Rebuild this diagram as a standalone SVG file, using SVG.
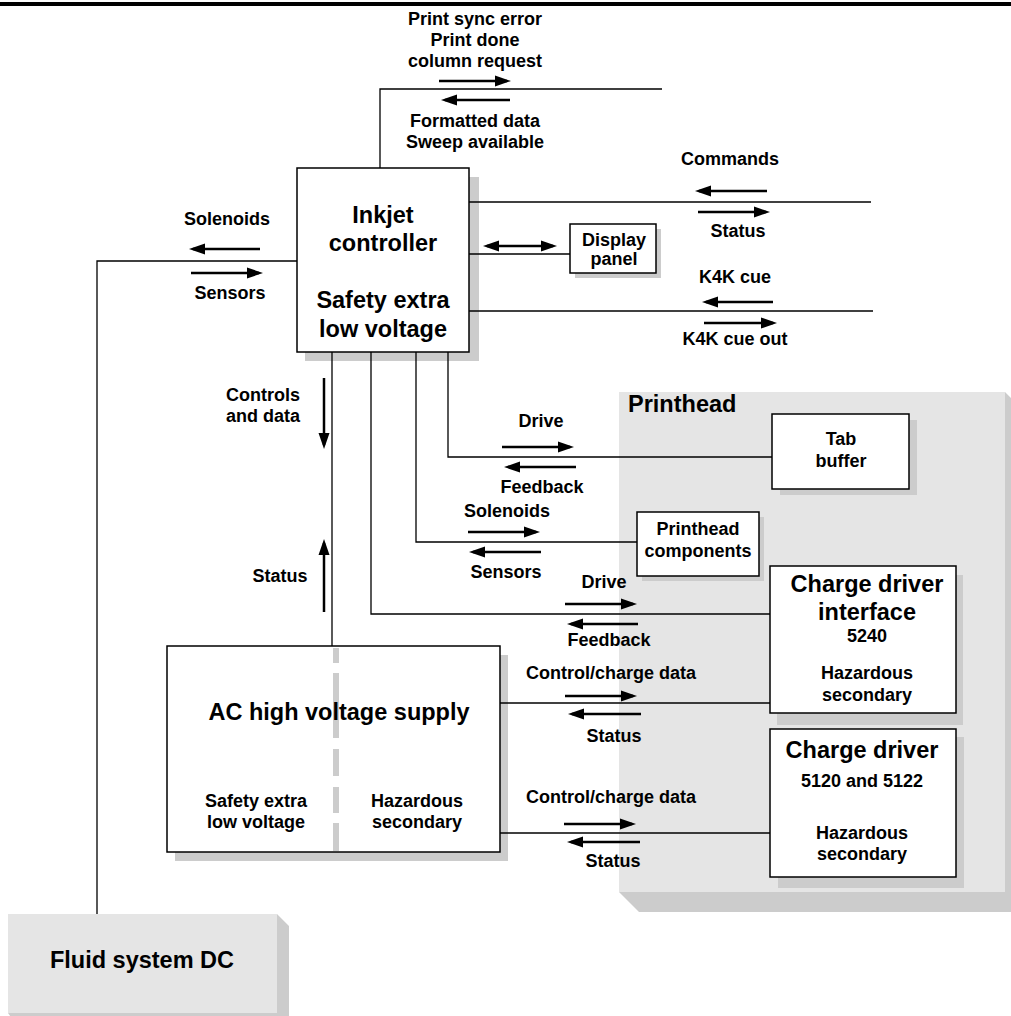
<svg xmlns="http://www.w3.org/2000/svg" width="1011" height="1016" viewBox="0 0 1011 1016">
<style>
text{font-family:"Liberation Sans",Arial,sans-serif;font-weight:bold;fill:#000}
.s{font-size:18px;text-anchor:middle}
.b{font-size:23.5px;text-anchor:middle}
.box{fill:#fff;stroke:#000;stroke-width:1.5}
.sh{fill:#cccccc}
.area{fill:#e5e5e5}
.con{fill:none;stroke:#000;stroke-width:1.3}
.arr{fill:none;stroke:#000;stroke-width:2.5;marker-end:url(#ah)}
.dbl{fill:none;stroke:#000;stroke-width:2.5;marker-end:url(#ah);marker-start:url(#ah)}
.dash{fill:#cccccc}
</style>
<defs>
<marker id="ah" markerUnits="userSpaceOnUse" markerWidth="17" markerHeight="12" refX="12" refY="6" orient="auto-start-reverse">
<path d="M0,0.5 L16,6 L0,11.5 z" fill="#000"/>
</marker>
</defs>
<rect x="0" y="2" width="1011" height="4" fill="#000"/>

<g id="printhead">
<polygon class="sh" points="1005,392 1025,412 1025,912 639,912 619,892 1005,892"/>
<rect class="area" x="619" y="392" width="386" height="500"/>
<text x="628" y="412" style="font-size:23.5px">Printhead</text>
</g>

<g id="fluid-system">
<polygon class="sh" points="277,914 289,926 289,1030 20,1030 8,1013 277,1013"/>
<rect class="area" x="8" y="914" width="269" height="99"/>
<text class="b" x="142" y="968">Fluid system DC</text>
</g>

<g id="inkjet-controller">
<rect class="sh" x="305" y="177" width="174" height="184"/>
<rect class="box" x="297" y="168" width="172" height="184"/>
<text class="b" x="383" y="223">Inkjet</text>
<text class="b" x="383" y="251">controller</text>
<text class="b" x="383" y="308">Safety extra</text>
<text class="b" x="383" y="337">low voltage</text>
</g>

<g id="display-panel">
<rect class="sh" x="575" y="229" width="86" height="49"/>
<rect class="box" x="570" y="224" width="86" height="49"/>
<text class="s" x="614" y="246">Display</text>
<text class="s" x="614" y="265">panel</text>
</g>

<g id="tab-buffer">
<rect class="sh" x="780" y="420" width="137" height="75"/>
<rect class="box" x="772" y="414" width="137" height="75"/>
<text class="s" x="841" y="445">Tab</text>
<text class="s" x="841" y="467">buffer</text>
</g>

<g id="printhead-components">
<rect class="sh" x="642" y="517" width="122" height="64"/>
<rect class="box" x="637" y="512" width="122" height="64"/>
<text class="s" x="698" y="535">Printhead</text>
<text class="s" x="698" y="557">components</text>
</g>

<g id="charge-driver-interface">
<rect class="sh" x="777" y="575" width="186" height="150"/>
<rect class="box" x="770" y="566" width="186" height="147"/>
<text class="b" x="867" y="592">Charge driver</text>
<text class="b" x="867" y="620">interface</text>
<text class="s" x="867" y="642">5240</text>
<text class="s" x="867" y="679">Hazardous</text>
<text class="s" x="867" y="701">secondary</text>
</g>

<g id="charge-driver">
<rect class="sh" x="778" y="737" width="186" height="151"/>
<rect class="box" x="770" y="729" width="186" height="148"/>
<text class="b" x="862" y="758">Charge driver</text>
<text class="s" x="862" y="787">5120 and 5122</text>
<text class="s" x="862" y="839">Hazardous</text>
<text class="s" x="862" y="860">secondary</text>
</g>

<g id="ac-supply">
<rect class="sh" x="175" y="655" width="333" height="206"/>
<rect class="box" x="167" y="646" width="333" height="206"/>
<rect class="dash" x="333" y="648" width="6" height="15"/>
<rect class="dash" x="333" y="673" width="6" height="65"/>
<rect class="dash" x="333" y="749" width="6" height="27"/>
<rect class="dash" x="333" y="787" width="6" height="26"/>
<rect class="dash" x="333" y="823" width="6" height="28"/>
<text class="b" x="339" y="720">AC high voltage supply</text>
<text class="s" x="256" y="807">Safety extra</text>
<text class="s" x="256" y="828">low voltage</text>
<text class="s" x="417" y="807">Hazardous</text>
<text class="s" x="417" y="828">secondary</text>
</g>

<g id="connectors">
<path class="con" d="M380,168 V89 H662"/>
<path class="con" d="M297,261 H97 V914"/>
<path class="con" d="M469,202 H871"/>
<path class="con" d="M469,254 H570"/>
<path class="con" d="M469,311 H873"/>
<path class="con" d="M448,352 V457 H772"/>
<path class="con" d="M416,352 V542 H637"/>
<path class="con" d="M371,352 V614 H770"/>
<path class="con" d="M332,352 V646"/>
<path class="con" d="M500,703 H770"/>
<path class="con" d="M500,833 H770"/>

<path class="arr" d="M439,81 H507"/>
<path class="arr" d="M510,100 H445"/>
<path class="arr" d="M260,249 H193"/>
<path class="arr" d="M191,273 H259"/>
<path class="arr" d="M767,191 H699"/>
<path class="arr" d="M698,212 H766"/>
<path class="dbl" d="M487,246 H553"/>
<path class="arr" d="M773,302 H706"/>
<path class="arr" d="M704,323 H773"/>
<path class="arr" d="M324,378 V445"/>
<path class="arr" d="M324,612 V543"/>
<path class="arr" d="M502,447 H570"/>
<path class="arr" d="M576,467 H508"/>
<path class="arr" d="M468,532 H536"/>
<path class="arr" d="M541,552 H473"/>
<path class="arr" d="M565,604 H633"/>
<path class="arr" d="M638,624 H571"/>
<path class="arr" d="M565,696 H633"/>
<path class="arr" d="M641,714 H572"/>
<path class="arr" d="M564,824 H632"/>
<path class="arr" d="M640,842 H571"/>

<text class="s" x="475" y="25">Print sync error</text>
<text class="s" x="475" y="46">Print done</text>
<text class="s" x="475" y="67">column request</text>
<text class="s" x="475" y="127">Formatted data</text>
<text class="s" x="475" y="148">Sweep available</text>
<text class="s" x="227" y="225">Solenoids</text>
<text class="s" x="230" y="299">Sensors</text>
<text class="s" x="730" y="165">Commands</text>
<text class="s" x="738" y="237">Status</text>
<text class="s" x="735" y="283">K4K cue</text>
<text class="s" x="735" y="345">K4K cue out</text>
<text x="300" y="401" style="font-size:18px;text-anchor:end">Controls</text>
<text x="300" y="422" style="font-size:18px;text-anchor:end">and data</text>
<text class="s" x="280" y="582">Status</text>
<text class="s" x="541" y="427">Drive</text>
<text class="s" x="542" y="493">Feedback</text>
<text class="s" x="507" y="517">Solenoids</text>
<text class="s" x="506" y="578">Sensors</text>
<text class="s" x="604" y="588">Drive</text>
<text class="s" x="609" y="646">Feedback</text>
<text class="s" x="611" y="679">Control/charge data</text>
<text class="s" x="614" y="742">Status</text>
<text class="s" x="611" y="803">Control/charge data</text>
<text class="s" x="613" y="867">Status</text>
</g>
</svg>
